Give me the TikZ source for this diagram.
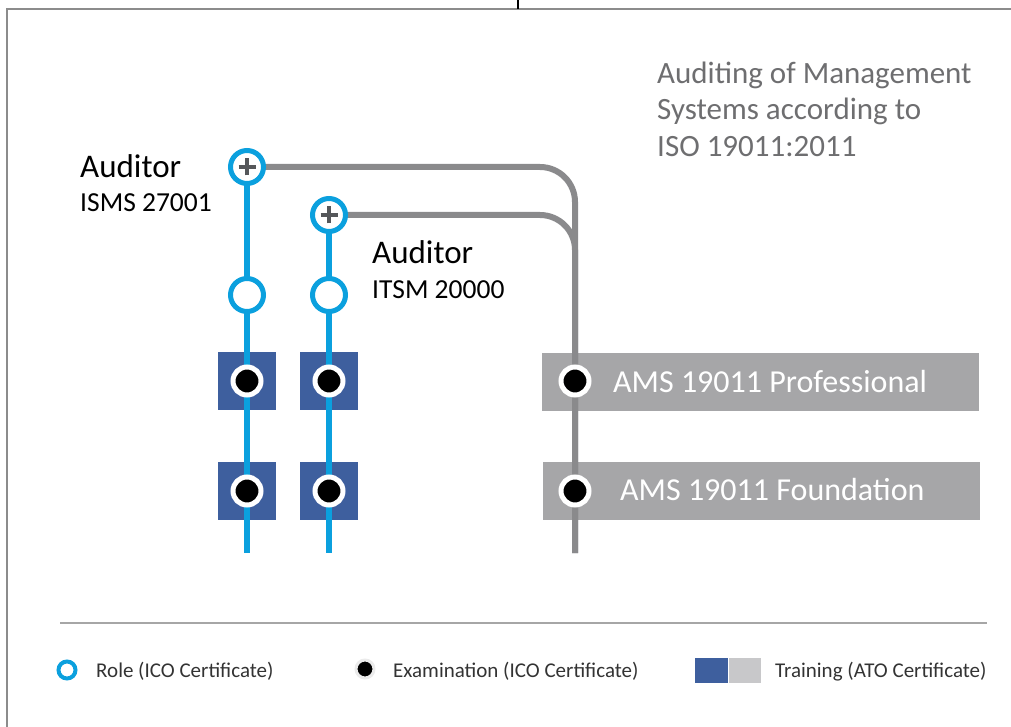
\documentclass[tikz,border=0pt]{standalone}
\usepackage{fontspec}
\setmainfont{Carlito}
\definecolor{roleblue}{HTML}{0BA0DE}
\definecolor{traindark}{HTML}{3E5F9E}
\definecolor{trainlight}{HTML}{C8C8CA}
\definecolor{barfill}{HTML}{A6A6A8}
\definecolor{linegray}{HTML}{8A8A8C}
\definecolor{titlegray}{HTML}{6E6E70}
\definecolor{plusgray}{HTML}{55575A}
\definecolor{framegray}{HTML}{8C8C8C}
\tikzset{
	roleline/.style={roleblue,line width=5.5pt},
	amsline/.style={linegray,line width=6pt},
	rolering/.style={circle,draw=roleblue,line width=5pt,fill=white,minimum size=33pt,inner sep=0pt},
	plusring/.style={rolering,path picture={
		\draw[plusgray,line width=3.5pt] (path picture bounding box.center) ++(-8.5pt,0) -- ++(17pt,0)
			(path picture bounding box.center) ++(0,-8.5pt) -- ++(0,17pt);}},
	exam/.style={circle,draw=white,line width=5pt,fill=black,minimum size=28pt,inner sep=0pt},
	trainbox/.style={fill=traindark,minimum size=58pt,inner sep=0pt},
	amsbar/.style={fill=barfill,minimum width=437pt,minimum height=58pt,inner sep=0pt},
	titletext/.style={font=\fontsize{31}{37}\selectfont,text=titlegray,inner sep=0pt},
	bigtext/.style={font=\fontsize{33}{38}\selectfont,inner sep=0pt},
	midtext/.style={font=\fontsize{27.5}{32}\selectfont,inner sep=0pt},
	bartext/.style={font=\fontsize{32}{36}\selectfont,text=white,inner sep=0pt},
	legtext/.style={font=\fontsize{21}{25}\selectfont,text=black!80,inner sep=0pt}
}

\begin{document}
\begin{tikzpicture}[x=1pt,y=-1pt]
\useasboundingbox (0,0) rectangle (1011,727);

% frame
\draw[framegray,line width=1.5pt] (7,727) -- (7,9) -- (1011,9);
\draw[line width=2pt] (518,0) -- (518,9);

% title
\node[titletext,anchor=base west] (title1) at (657,84) {Auditing of Management};
\node[titletext,anchor=base west] (title2) at (657,120) {Systems according to};
\node[titletext,anchor=base west] (title3) at (657,157) {ISO 19011:2011};

% points on the lines
\coordinate (isms) at (247,167);
\coordinate (itsm) at (329,215);
\coordinate (ismsrole) at (247,295);
\coordinate (itsmrole) at (329,295);
\coordinate (ismsend) at (247,553);
\coordinate (itsmend) at (329,553);
\coordinate (amsend) at (575,553);
\coordinate (amspro) at (575,381);
\coordinate (amsfound) at (575,491);

% training and courses
\node[trainbox] (ismspro) at (247,381) {};
\node[trainbox] (ismsfound) at (247,491) {};
\node[trainbox] (itsmpro) at (329,381) {};
\node[trainbox] (itsmfound) at (329,491) {};
\node[amsbar] (barpro) at (760,381.5) {};
\node[amsbar] (barfound) at (761,491) {};
\node[bartext,anchor=base west] (txtpro) at (613,392) {AMS 19011 Professional};
\node[bartext,anchor=base west] (txtfound) at (620,500) {AMS 19011 Foundation};

% lines
\draw[amsline,rounded corners=35pt] (isms) -| (amsend);
\draw[amsline,rounded corners=35pt] (itsm) -| (amsend);
\draw[roleline] (isms) -- (ismsend);
\draw[roleline] (itsm) -- (itsmend);

% roles and exams
\node[plusring] (ismsplus) at (isms) {};
\node[plusring] (itsmplus) at (itsm) {};
\node[rolering] (ismsring) at (ismsrole) {};
\node[rolering] (itsmring) at (itsmrole) {};
\node[exam] (exama) at (ismspro) {};
\node[exam] (examb) at (ismsfound) {};
\node[exam] (examc) at (itsmpro) {};
\node[exam] (examd) at (itsmfound) {};
\node[exam] (exame) at (amspro) {};
\node[exam] (examf) at (amsfound) {};

% labels
\node[bigtext,anchor=base west] (lblisms) at (80,178) {Auditor};
\node[midtext,anchor=base west] (subisms) at (80,212) {ISMS 27001};
\node[bigtext,anchor=base west] (lblitsm) at (372,263) {Auditor};
\node[midtext,anchor=base west] (subitsm) at (372,298) {ITSM 20000};

% legend
\draw[gray!70,line width=2.5pt] (60,623) -- (987,623);
\node[circle,draw=roleblue,line width=4pt,minimum size=17pt,inner sep=0pt] (legrole) at (67,670) {};
\node[legtext,anchor=base west] (legroletxt) at (96,677) {Role (ICO Certificate)};
\node[circle,draw=black!8,line width=3pt,fill=black,minimum size=18pt,inner sep=0pt] (legexam) at (365,669) {};
\node[legtext,anchor=base west] (legexamtxt) at (393,677) {Examination (ICO Certificate)};
\node[fill=traindark,minimum width=33pt,minimum height=25pt,inner sep=0pt,anchor=west] (legdark) at (695,670) {};
\node[fill=trainlight,minimum width=32pt,minimum height=25pt,inner sep=0pt,anchor=west] (leglight) at (legdark.east) {};
\node[legtext,anchor=base west] (legtraintxt) at (775,677) {Training (ATO Certificate)};
\end{tikzpicture}
\end{document}
